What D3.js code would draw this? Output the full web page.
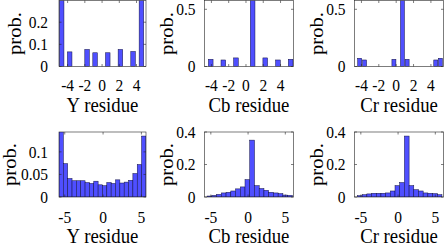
<!DOCTYPE html>
<html>
<head>
<meta charset="utf-8">
<script src="https://cdn.jsdelivr.net/npm/d3@7"></script>
<style>
  body { margin: 0; background: #fff; }
  svg { display: block; }
  text { font-family: "Liberation Serif", "Times New Roman", serif; fill: #000; }
</style>
</head>
<body>
<svg id="chart" width="447" height="245"></svg>
<script>
// top row: bar centres (residue) and probabilities
const yTopCenters = [-4.69, -3.76, -1.74, -0.81, 0.66, 2.13, 3.6, 4.57];
const yTopProb = [0.31, 0.066, 0.077, 0.062, 0.062, 0.077, 0.068, 0.31];
const cbTopCenters = [-4.08, -2.62, -1.16, 0.77, 2.23, 3.7, 5.17];
const cbTopProb = [0.063, 0.057, 0.075, 0.62, 0.075, 0.057, 0.063];
const crTopCenters = [-4.2, -3.64, -0.26, 0.72, 1.26, 4.56, 5.09];
const crTopProb = [0.072, 0.057, 0.063, 0.62, 0.063, 0.057, 0.072];

// bottom row: histogram bins (first edge, bin width) and probabilities
const yBotBins = { start: -5.75, width: 0.567 };
const yBotProb = [0.15, 0.074, 0.041, 0.036, 0.036, 0.036, 0.032, 0.030, 0.035, 0.027,
                  0.025, 0.032, 0.030, 0.038, 0.031, 0.033, 0.037, 0.052, 0.072, 0.135];
const cbBotBins = { start: -5.5, width: 0.636 };
const cbBotProb = [0.006, 0.010, 0.016, 0.025, 0.029, 0.037, 0.050, 0.062, 0.107,
                   0.350, 0.070, 0.052, 0.041, 0.029, 0.025, 0.021, 0.012, 0.010];
const crBotBins = { start: -5.45, width: 0.63 };
const crBotProb = [0.008, 0.014, 0.019, 0.023, 0.023, 0.023, 0.025, 0.037, 0.070,
                   0.089, 0.375, 0.070, 0.045, 0.037, 0.025, 0.023, 0.021, 0.014];

const topXTicks = [-4, -2, 0, 2, 4];
const botXTicks = [-5, 0, 5];
const xLabels = ['Y residue', 'Cb residue', 'Cr residue'];

const svg = d3.select('#chart');
const stretch = 1.1;          // the figure text is slightly taller than wide
const tickFont = 15.5;
const labelFont = 18.8;

const cols = [[59, 146], [204.5, 293.5], [354.5, 443.5]];
const rows = [
  { top: 0.5, bottom: 66.5, tickBase: 90.7, labelBase: 111.7 },
  { top: 132, bottom: 197, tickBase: 222.6, labelBase: 243.3 }
];

function histBars(bins, probs) {
  return probs.map((p, i) => ({ c: bins.start + bins.width * (i + 0.5), v: p }));
}

const panels = [
  { row: 0, col: 0, xd: [-5, 5.1], yd: [0, 0.298], yt: [0, 0.1, 0.2], bw: 0.53,
    bars: yTopCenters.map((c, i) => ({ c, v: yTopProb[i] })), xt: topXTicks, ylx: 21.4, yTickGap: 11 },
  { row: 0, col: 1, xd: [-4.8, 5.5], yd: [0, 0.577], yt: [0, 0.5], bw: 0.54,
    bars: cbTopCenters.map((c, i) => ({ c, v: cbTopProb[i] })), xt: topXTicks, ylx: 173.4, yTickGap: 9 },
  { row: 0, col: 2, xd: [-4.8, 5.45], yd: [0, 0.577], yt: [0, 0.5], bw: 0.46,
    bars: crTopCenters.map((c, i) => ({ c, v: crTopProb[i] })), xt: topXTicks, ylx: 323.4, yTickGap: 9 },
  { row: 1, col: 0, xd: [-5.75, 5.6], yd: [0, 0.144], yt: [0, 0.05, 0.1], bw: yBotBins.width,
    bars: histBars(yBotBins, yBotProb), xt: botXTicks, ylx: 16, yTickGap: 11 },
  { row: 1, col: 1, xd: [-5.85, 6.1], yd: [0, 0.4], yt: [0, 0.2, 0.4], bw: cbBotBins.width,
    bars: histBars(cbBotBins, cbBotProb), xt: botXTicks, ylx: 173.4, yTickGap: 9 },
  { row: 1, col: 2, xd: [-5.85, 6.1], yd: [0, 0.4], yt: [0, 0.2, 0.4], bw: crBotBins.width,
    bars: histBars(crBotBins, crBotProb), xt: botXTicks, ylx: 323.4, yTickGap: 9 }
];

function stretchedText(g, x, y, str, size, anchor, rotate) {
  return g.append('text')
    .attr('transform', `translate(${x},${y}) scale(1,${stretch})` + (rotate ? ' rotate(-90)' : ''))
    .attr('text-anchor', anchor)
    .style('font-size', size + 'px')
    .text(str);
}

panels.forEach((p, idx) => {
  const r = rows[p.row];
  const [left, right] = cols[p.col];
  const x = d3.scaleLinear().domain(p.xd).range([left, right]);
  const y = d3.scaleLinear().domain(p.yd).range([r.bottom, r.top]);
  const g = svg.append('g');

  const clipId = 'clip' + idx;
  g.append('clipPath').attr('id', clipId)
    .append('rect')
    .attr('x', left).attr('y', r.top)
    .attr('width', right - left).attr('height', r.bottom - r.top);

  g.append('g').attr('clip-path', `url(#${clipId})`)
    .selectAll('rect')
    .data(p.bars)
    .join('rect')
    .attr('x', d => x(d.c - p.bw / 2))
    .attr('width', d => x(d.c + p.bw / 2) - x(d.c - p.bw / 2))
    .attr('y', d => y(d.v))
    .attr('height', d => y(0) - y(d.v))
    .attr('fill', '#4f4fff')
    .attr('stroke', '#101040')
    .attr('stroke-width', 0.5);

  // inward ticks on all four sides
  const tickLen = 2.5;
  const tk = g.append('g').attr('stroke', '#262626').attr('stroke-width', 0.6);
  p.xt.forEach(v => {
    tk.append('line').attr('x1', x(v)).attr('x2', x(v)).attr('y1', r.bottom).attr('y2', r.bottom - tickLen);
    tk.append('line').attr('x1', x(v)).attr('x2', x(v)).attr('y1', r.top).attr('y2', r.top + tickLen);
  });
  p.yt.forEach(v => {
    tk.append('line').attr('x1', left).attr('x2', left + tickLen).attr('y1', y(v)).attr('y2', y(v));
    tk.append('line').attr('x1', right).attr('x2', right - tickLen).attr('y1', y(v)).attr('y2', y(v));
  });

  g.append('rect')
    .attr('x', left).attr('y', r.top)
    .attr('width', right - left).attr('height', r.bottom - r.top)
    .attr('fill', 'none')
    .attr('stroke', '#262626')
    .attr('stroke-width', 0.6);

  p.xt.forEach(v => stretchedText(g, x(v), r.tickBase, String(v), tickFont, 'middle'));
  p.yt.forEach(v => stretchedText(g, left - p.yTickGap, y(v) + 5.8, String(v), tickFont, 'end'));

  stretchedText(g, (left + right) / 2, r.labelBase, xLabels[p.col], labelFont, 'middle');
  stretchedText(g, p.ylx, (r.top + r.bottom) / 2, 'prob.', labelFont, 'middle', true);
});
</script>
</body>
</html>
